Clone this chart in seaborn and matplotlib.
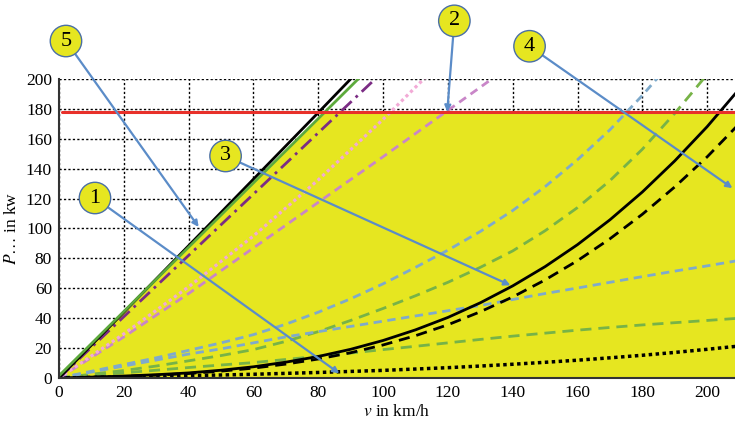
import numpy as np
import matplotlib
matplotlib.use("Agg")
import matplotlib.pyplot as plt
import seaborn as sns

# ==========================================
# DATA
# ==========================================
# straight-ish lines through the origin
v_lin = [0, 20, 40, 60, 80, 100, 120, 140]
p_black_line = [0, 44, 88.5, 133, 177.5, 222.5, 267, 311]
p_green_line = [1.5, 44.5, 87.5, 130.5, 173.5, 216.5, 259.5, 302.5]
p_purple_dashdot = [0, 41, 82, 123, 164, 205, 246, 287]
p_pink_dotted = [0, 29.5, 61, 95, 132.5, 173, 216, 262]
p_mauve_dashed = [0, 27.5, 56.5, 87, 117.5, 148, 179, 210]

# curves over speed
v = [0, 10, 20, 30, 40, 50, 60, 70, 80, 90, 100, 110,
     120, 130, 140, 150, 160, 170, 180, 190, 200, 210]
p_black_solid = [0, 0.6, 1.3, 2.2, 3.4, 5.2, 7.5, 10.6, 14.4, 19.2, 25.1, 32.2,
                 40.5, 50.3, 61.6, 74.5, 89.2, 105.8, 124.4, 145.2, 168.1, 193.5]
p_black_dashed = [0, 0.5, 1.1, 1.9, 3.0, 4.6, 6.6, 9.3, 12.7, 16.9, 22.1, 28.3,
                  35.6, 44.3, 54.2, 65.6, 78.5, 93.1, 109.5, 127.8, 147.9, 170.3]
p_black_dotted = [0, 0.4, 0.7, 1.1, 1.6, 2.0, 2.5, 3.1, 3.7, 4.4, 5.1, 6.0,
                  6.9, 8.0, 9.2, 10.5, 11.9, 13.5, 15.2, 17.1, 19.2, 21.4]
p_blue_upper = [0, 4.5, 9, 13.5, 18.5, 23.5, 29, 36, 44, 53, 63, 74,
                85.5, 98, 112, 128, 146, 166, 189, 214, 240, 268]
p_blue_lower = [0, 4, 8, 12, 16, 19.5, 23.5, 27.5, 31, 34.5, 38, 41.5,
                45, 48.5, 52.5, 56.5, 60.2, 64, 67.8, 71.5, 75, 78.7]
p_green_upper = [0, 2.5, 5, 8, 11.5, 15, 19, 24.5, 31, 38.5, 46.5, 55,
                 64, 74, 85, 98.5, 114, 132, 153, 177, 203, 231]
p_green_lower = [0, 1.8, 3.5, 5.2, 7, 8.7, 10.3, 12.4, 14.5, 16.7, 19, 21.2,
                 23.5, 25.8, 28, 30, 32, 33.8, 35.5, 37, 38.5, 40]
p_limit = 178

# callouts: label, arrow tip, circle centre (data units)
callout_labels = ["1", "2", "3", "4", "5"]
callout_tips = [(86.5, 3.1), (119.8, 178), (139.3, 62), (207.8, 127), (43.1, 101)]
callout_centres = [(11.1, 120.4), (122, 238.9), (51.4, 148.5), (145.2, 221.9), (2.15, 225.4)]

# ==========================================
# STYLE
# ==========================================
sns.set_style("white")
plt.rcParams["font.family"] = ["Liberation Serif", "DejaVu Serif"]
plt.rcParams["mathtext.fontset"] = "stix"
plt.rcParams["text.color"] = "black"
plt.rcParams["axes.labelcolor"] = "black"
plt.rcParams["xtick.color"] = "black"
plt.rcParams["ytick.color"] = "black"

yellow = "#E6E620"
callout_blue = "#5B8CC8"

fig = plt.figure(figsize=(7.35, 4.23), dpi=100)
ax = fig.add_axes([59 / 735, 1 - 378 / 423, 1 - 59 / 735, (378 - 79) / 423])

# grid first, hidden under the yellow area
ax.set_axisbelow(True)
ax.grid(True, color="black", linestyle=(0, (1.6, 1.6)), linewidth=1.0)

# yellow operating area
xx = np.linspace(0, 210, 800)
upper = np.minimum(np.interp(xx, v_lin, p_green_line), p_limit)
ax.fill_between(xx, 0, upper, color=yellow, linewidth=0, zorder=1)

# power limit
ax.axhline(p_limit, xmin=0.005, color="#E8302A", linewidth=2.2, zorder=3)

# lines
sns.lineplot(x=v, y=p_green_lower, color="#77B347", linewidth=2, linestyle=(0, (4, 2.5)), ax=ax)
sns.lineplot(x=v, y=p_green_upper, color="#77B347", linewidth=2, linestyle=(0, (4, 2.5)), ax=ax)
sns.lineplot(x=v, y=p_blue_lower, color="#7FAACB", linewidth=2, linestyle=(0, (3, 2)), ax=ax)
sns.lineplot(x=v, y=p_blue_upper, color="#7FAACB", linewidth=2, linestyle=(0, (3, 2)), ax=ax)
sns.lineplot(x=v, y=p_black_dotted, color="black", linewidth=2.5, linestyle=(0, (1, 1)), ax=ax)
sns.lineplot(x=v, y=p_black_dashed, color="black", linewidth=2, linestyle=(0, (4, 2.5)), ax=ax)
sns.lineplot(x=v, y=p_black_solid, color="black", linewidth=2, ax=ax)

sns.lineplot(x=v_lin, y=p_mauve_dashed, color="#C986C8", linewidth=2, linestyle=(0, (3, 2)), ax=ax)
sns.lineplot(x=v_lin, y=p_pink_dotted, color="#F2AAD6", linewidth=2.3, linestyle=(0, (1, 1)), ax=ax)
sns.lineplot(x=v_lin, y=p_purple_dashdot, color="#7B2C84", linewidth=2, linestyle=(0, (5, 2, 1, 2)), ax=ax)
sns.lineplot(x=v_lin, y=p_black_line, color="black", linewidth=2, ax=ax)
sns.lineplot(x=v_lin, y=p_green_line, color="#5DAA3C", linewidth=2, ax=ax)

# numbered callouts
for label, tip, centre in zip(callout_labels, callout_tips, callout_centres):
    ax.annotate(label, xy=tip, xytext=centre, xycoords="data", textcoords="data",
                ha="center", va="center", fontsize=16, color="black",
                annotation_clip=False, zorder=6,
                bbox=dict(boxstyle="circle,pad=0.28", fc=yellow, ec="#4A6FA5", lw=1),
                arrowprops=dict(arrowstyle="-|>", color=callout_blue, lw=1.6,
                                mutation_scale=9, shrinkA=0, shrinkB=0))

# axes
ax.set_xlim(0, 208.6)
ax.set_ylim(0, 200)
ax.set_xticks(np.arange(0, 201, 20))
ax.set_yticks(np.arange(0, 201, 20))
ax.tick_params(length=0, labelsize=12.5, pad=5)
ax.set_xlabel(r"$v$ in km/h", fontsize=12.5, labelpad=2)
ax.set_ylabel(r"$P\ldots$ in kw", fontsize=12.5, labelpad=4)

for side in ["top", "right"]:
    ax.spines[side].set_visible(False)
for side in ["left", "bottom"]:
    ax.spines[side].set_color("#333333")
    ax.spines[side].set_linewidth(1.5)
    ax.spines[side].set_zorder(4)

fig.savefig("out.png", dpi=100)
